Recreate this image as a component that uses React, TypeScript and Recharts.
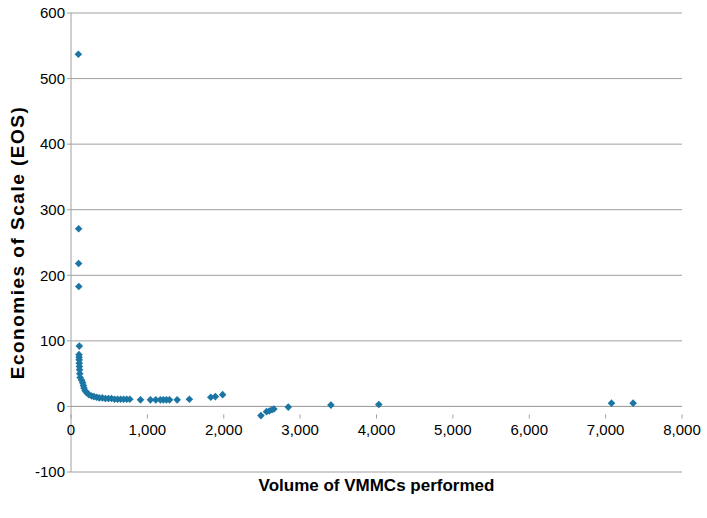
import { ScatterChart, Scatter, XAxis, YAxis, CartesianGrid, ReferenceLine, Label } from 'recharts'

// volume of VMMCs (x) and economies of scale (y)
const volume = [
  96, 100, 100, 102, 109, 105, 106, 107, 108, 110, 112, 115, 120, 140, 153, 162, 170, 185, 205, 235,
  270, 300, 336, 370, 410, 450, 490, 530, 570, 610, 650, 690, 730, 770, 910, 1040, 1110, 1170, 1210,
  1250, 1290, 1390, 1550, 1830, 1890, 1985, 2487, 2560, 2596, 2631, 2657, 2845, 3403, 4030, 7077, 7360,
]
const eos = [
  537, 271, 218, 183, 92, 79, 75, 71, 66, 61, 56, 50, 44, 40, 36, 32, 28, 24, 21, 18,
  16, 15, 14, 13, 13, 12, 12, 12, 11, 11, 11, 11, 11, 11, 10, 10, 10, 10, 10,
  10, 10, 10, 11, 14, 15, 18, -14, -8, -7, -5, -4, -1, 2, 3, 5, 5,
]
const xTicks = [0, 1000, 2000, 3000, 4000, 5000, 6000, 7000, 8000]
const yTicks = [-100, 0, 100, 200, 300, 400, 500, 600]

const data = volume.map((v, i) => ({ volume: v, eos: eos[i] }))

const W = 707
const H = 518
const xAxisH = 46
const margin = { top: 13, right: 25, bottom: 0, left: 21 }
const yAxisW = 50
const plotH = H - margin.top - margin.bottom - xAxisH
const yMin = yTicks[0]
const yMax = yTicks[yTicks.length - 1]
// distance from the bottom of the plot up to the zero line
const zeroLift = (plotH * (0 - yMin)) / (yMax - yMin)

const font = '"Liberation Sans", Arial, sans-serif'
const gridColor = '#a0a0a0'
const dotColor = '#1b76a4'

const Diamond = (props: any) => {
  const { cx, cy } = props
  const r = 3.8
  return <path d={`M${cx},${cy - r}L${cx + r},${cy}L${cx},${cy + r}L${cx - r},${cy}Z`} fill={dotColor} />
}

const XTick = (props: any) => {
  const { x, y, payload } = props
  const y0 = y - zeroLift
  return (
    <g>
      <line x1={x} x2={x} y1={y0} y2={y0 + 4} stroke={gridColor} />
      <text x={x} y={y0 + 21} textAnchor="middle" fontSize={15} fontFamily={font} fill="#000">
        {payload.value.toLocaleString('en-US')}
      </text>
    </g>
  )
}

export default function App() {
  return (
    <div style={{ position: 'absolute', left: 0, top: 0, background: '#fff' }}>
      <ScatterChart width={W} height={H} margin={margin}>
        <CartesianGrid vertical={false} stroke={gridColor} horizontalValues={yTicks} />
        <XAxis
          type="number"
          dataKey="volume"
          domain={[0, 8000]}
          ticks={xTicks}
          axisLine={false}
          tickLine={false}
          tick={<XTick />}
          interval={0}
          height={xAxisH}
        >
          <Label
            value="Volume of VMMCs performed"
            position="insideBottom"
            offset={27}
            style={{ fontSize: 17, fontWeight: 'bold', fontFamily: font, fill: '#000' }}
          />
        </XAxis>
        <YAxis
          type="number"
          dataKey="eos"
          domain={[yMin, yMax]}
          ticks={yTicks}
          interval={0}
          width={yAxisW}
          stroke={gridColor}
          tickSize={4}
          tick={{ fontSize: 15, fontFamily: font, fill: '#000' }}
        >
          <Label
            value="Economies of Scale (EOS)"
            angle={-90}
            position="insideLeft"
            offset={-4}
            style={{ fontSize: 19, fontWeight: 'bold', fontFamily: font, fill: '#000', textAnchor: 'middle', letterSpacing: 1.5 }}
          />
        </YAxis>
        <ReferenceLine y={0} stroke={gridColor} />
        <Scatter data={data} shape={<Diamond />} isAnimationActive={false} />
      </ScatterChart>
    </div>
  )
}
